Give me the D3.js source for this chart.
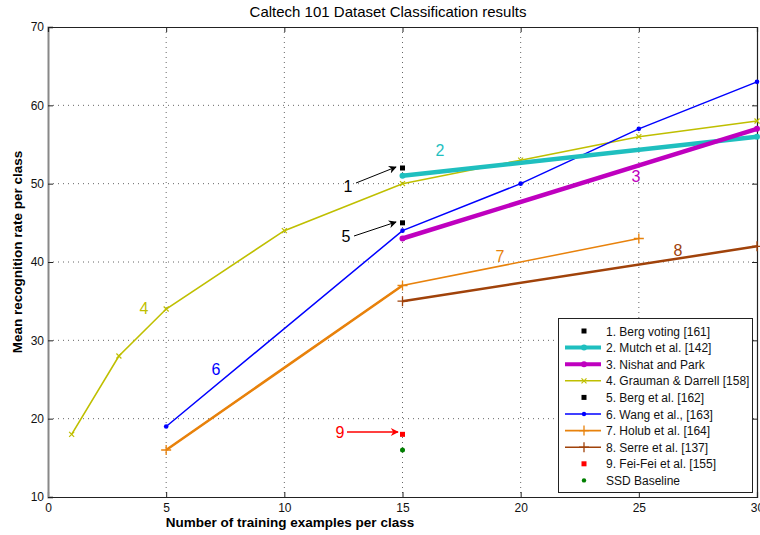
<!DOCTYPE html>
<html><head><meta charset="utf-8">
<script src="https://cdn.jsdelivr.net/npm/d3@7"></script>
<style>body{margin:0;background:#fff;} svg{display:block;font-family:"Liberation Sans",Arial,sans-serif;}</style>
</head><body>
<svg id="c" width="760" height="535"></svg>
<script>
const title = "Caltech 101 Dataset Classification results";
const xLabel = "Number of training examples per class";
const yLabel = "Mean recognition rate per class";
const xTicks = [0,5,10,15,20,25,30];
const yTicks = [10,20,30,40,50,60,70];

const bergVoting = [[15,52]];
const mutch = [[15,51],[30,56]];
const nishat = [[15,43],[30,57]];
const grauman = [[1,18],[3,28],[5,34],[10,44],[15,50],[20,53],[25,56],[30,58]];
const bergEtAl = [[15,45]];
const wang = [[5,19],[15,44],[20,50],[25,57],[30,63]];
const holub = [[5,16],[15,37],[25,43]];
const holubLow = [[5,16],[15,37]];
const serre = [[15,35],[30,42]];
const feiFei = [[15,18]];
const ssd = [[15,16]];

const legendNames = ["1. Berg voting [161]","2. Mutch et al. [142]","3. Nishat and Park","4. Grauman & Darrell [158]","5. Berg et al. [162]","6. Wang et al., [163]","7. Holub et al. [164]","8. Serre et al. [137]","9. Fei-Fei et al. [155]","SSD Baseline"];

const svg = d3.select("#c");
const m = {l:48, r:757, t:27, b:497};
const x = d3.scaleLinear().domain([0,30]).range([m.l, m.r]);
const y = d3.scaleLinear().domain([10,70]).range([m.b, m.t]);

// grid
const g = svg.append("g");
g.selectAll(".gx").data(xTicks.slice(1,-1)).enter().append("line")
 .attr("x1",d=>x(d)).attr("x2",d=>x(d)).attr("y1",m.t).attr("y2",m.b)
 .attr("stroke","#666").attr("stroke-width",1).attr("stroke-dasharray","1,4");
g.selectAll(".gy").data(yTicks.slice(1,-1)).enter().append("line")
 .attr("y1",d=>y(d)).attr("y2",d=>y(d)).attr("x1",m.l).attr("x2",m.r)
 .attr("stroke","#666").attr("stroke-width",1).attr("stroke-dasharray","1,4");

// axes
const ax = d3.axisBottom(x).tickValues(xTicks).tickSize(-5).tickPadding(6);
const ay = d3.axisLeft(y).tickValues(yTicks).tickSize(-5).tickPadding(4);
const gx = svg.append("g").attr("transform",`translate(0,${m.b})`).call(ax);
const gy = svg.append("g").attr("transform",`translate(${m.l},0)`).call(ay);
svg.append("g").attr("transform",`translate(0,${m.t})`).call(d3.axisTop(x).tickValues(xTicks).tickSize(-5).tickFormat(""));
svg.append("g").attr("transform",`translate(${m.r},0)`).call(d3.axisRight(y).tickValues(yTicks).tickSize(-5).tickFormat(""));
svg.selectAll(".domain").attr("stroke","#222").attr("stroke-width",1.2);
gy.select(".domain").attr("stroke","#888").attr("stroke-width",2);
svg.selectAll(".tick line").attr("stroke","#222");
svg.selectAll(".tick text").attr("font-size",12).attr("fill","#111").attr("font-family","'Liberation Sans Narrow','Liberation Sans',Arial");

// title / labels
svg.append("text").attr("x",388).attr("y",17).attr("text-anchor","middle").attr("font-size",15).text(title);
svg.append("text").attr("x",290).attr("y",527).attr("text-anchor","middle").attr("font-size",13.5).attr("font-weight","bold").text(xLabel);
svg.append("text").attr("transform","translate(22,252) rotate(-90)").attr("text-anchor","middle").attr("font-size",13.5).attr("font-weight","bold").text(yLabel);

const line = d3.line().x(d=>x(d[0])).y(d=>y(d[1]));
const plot = svg.append("g");
function drawLine(data,color,w){plot.append("path").datum(data).attr("d",line).attr("fill","none").attr("stroke",color).attr("stroke-width",w);}
function dots(data,color,r){plot.selectAll(null).data(data).enter().append("circle").attr("cx",d=>x(d[0])).attr("cy",d=>y(d[1])).attr("r",r).attr("fill",color);}
function squares(data,color,s){plot.selectAll(null).data(data).enter().append("rect").attr("x",d=>x(d[0])-s/2).attr("y",d=>y(d[1])-s/2).attr("width",s).attr("height",s).attr("fill",color);}
function plus(data,color,s){data.forEach(d=>{const cx=x(d[0]),cy=y(d[1]);plot.append("path").attr("d",`M${cx-s},${cy}H${cx+s}M${cx},${cy-s}V${cy+s}`).attr("stroke",color).attr("stroke-width",1.3);});}
function cross(data,color,s){data.forEach(d=>{const cx=x(d[0]),cy=y(d[1]);plot.append("path").attr("d",`M${cx-s},${cy-s}L${cx+s},${cy+s}M${cx-s},${cy+s}L${cx+s},${cy-s}`).attr("stroke",color).attr("stroke-width",1.2);});}

const C = {cyan:"#1fbfbf", mag:"#bf00bf", yel:"#bfbf00", blue:"#0000ff", orange:"#e8820c", brown:"#a0420a", red:"#ff0000", green:"#007f00"};

drawLine(serre,C.brown,2.5); plus(serre,C.brown,5);
drawLine(holubLow,C.orange,2.5);
drawLine(holub,C.orange,1.5); plus(holub,C.orange,5);
drawLine(grauman,C.yel,1.6); cross(grauman,C.yel,2.5);
drawLine(wang,C.blue,1.5); dots(wang,C.blue,2.3);
drawLine(mutch,C.cyan,4.5); dots(mutch,C.cyan,3);
drawLine(nishat,C.mag,4.5); dots(nishat,C.mag,3);
squares(bergVoting,"#000",5); squares(bergEtAl,"#000",5);
squares(feiFei,C.red,5); dots(ssd,C.green,2.5);

// annotations
const defs = svg.append("defs");
function marker(id,color){defs.append("marker").attr("id",id).attr("viewBox","0 0 10 10").attr("refX",9).attr("refY",5).attr("markerWidth",9).attr("markerHeight",8).attr("markerUnits","userSpaceOnUse").attr("orient","auto")
 .append("path").attr("d","M0,0L10,5L0,10L3,5Z").attr("fill",color);}
marker("ab","#000"); marker("ar",C.red);
function arrow(x1,y1,x2,y2,color,id){svg.append("line").attr("x1",x1).attr("y1",y1).attr("x2",x2).attr("y2",y2).attr("stroke",color).attr("stroke-width",color===C.red?1.5:1).attr("marker-end",`url(#${id})`);}
arrow(356,183,396,167,"#000","ab");
arrow(354,236,396,222,"#000","ab");
arrow(347,432,398,432,C.red,"ar");
function label(t,lx,ly,color){svg.append("text").attr("x",lx).attr("y",ly).attr("text-anchor","middle").attr("font-size",16).attr("fill",color).text(t);}
label("1",348,192,"#000"); label("5",346,242,"#000"); label("9",340,438,C.red);
label("2",440,156,C.cyan); label("3",636,182,C.mag); label("4",144,314,C.yel);
label("6",216,375,C.blue); label("7",500,262,C.orange); label("8",678,256,C.brown);

// legend
const lg = svg.append("g");
lg.append("rect").attr("x",558.5).attr("y",318.5).attr("width",194).attr("height",174).attr("fill","#fff").attr("stroke","#222");
const lstyle = [
 {c:"#000",w:0,mk:"sq"},{c:C.cyan,w:4,mk:"dot"},{c:C.mag,w:4,mk:"dot"},{c:C.yel,w:1.6,mk:"x"},{c:"#000",w:0,mk:"sq"},
 {c:C.blue,w:1.6,mk:"dot"},{c:C.orange,w:1.6,mk:"plus"},{c:C.brown,w:1.6,mk:"plus"},{c:C.red,w:0,mk:"sq"},{c:C.green,w:0,mk:"dot"}];
legendNames.forEach((n,i)=>{
 const yy = 331 + i*16.6, x1=565, x2=601, xm=584;
 const s = lstyle[i];
 if(s.w>0) lg.append("line").attr("x1",x1).attr("x2",x2).attr("y1",yy).attr("y2",yy).attr("stroke",s.c).attr("stroke-width",s.w);
 if(s.mk==="sq") lg.append("rect").attr("x",xm-2.5).attr("y",yy-2.5).attr("width",5).attr("height",5).attr("fill",s.c);
 if(s.mk==="dot") lg.append("circle").attr("cx",xm).attr("cy",yy).attr("r",s.w>=4?3:2.2).attr("fill",s.c);
 if(s.mk==="plus") lg.append("path").attr("d",`M${xm-5},${yy}H${xm+5}M${xm},${yy-5}V${yy+5}`).attr("stroke",s.c).attr("stroke-width",1.3);
 if(s.mk==="x") lg.append("path").attr("d",`M${xm-2.5},${yy-2.5}L${xm+2.5},${yy+2.5}M${xm-2.5},${yy+2.5}L${xm+2.5},${yy-2.5}`).attr("stroke",s.c).attr("stroke-width",1.2);
 lg.append("text").attr("x",606).attr("y",yy+4.5).attr("font-size",12).attr("fill","#111").text(n);
});
</script>
</body></html>
